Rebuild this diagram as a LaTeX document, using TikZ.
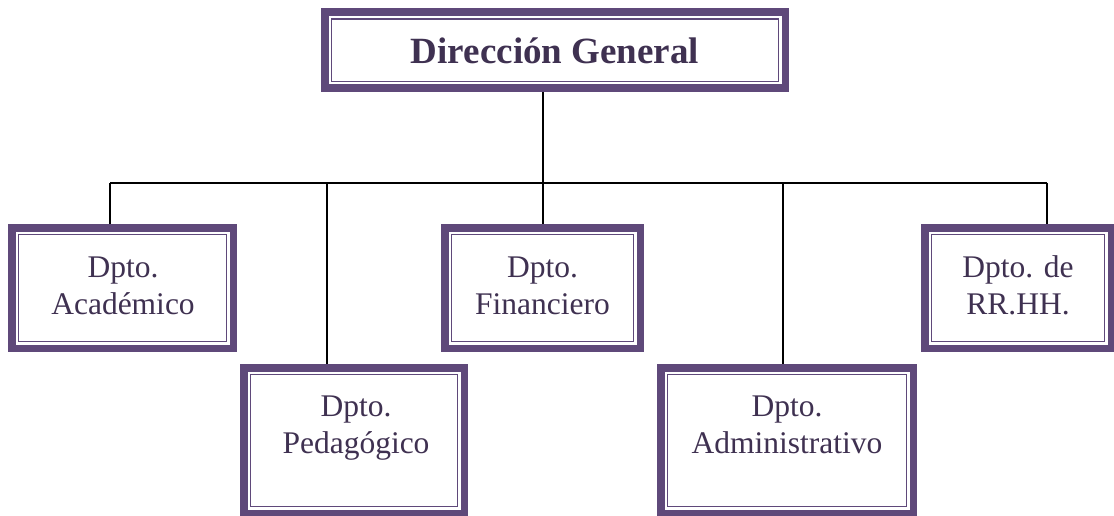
\documentclass[tikz,border=0pt]{standalone}
\usepackage{fontspec}
\setmainfont{Liberation Serif}
\definecolor{boxpurple}{HTML}{5F497A}
\definecolor{txtpurple}{HTML}{3F3151}
\tikzset{
  orgbox/.style={draw=boxpurple, line width=7.5pt, fill=white, inner sep=0pt, outer sep=3.75pt,
    path picture={\draw[boxpurple, line width=1.5pt]
      ([xshift=6.75pt,yshift=-6.75pt]path picture bounding box.north west) rectangle
      ([xshift=-6.75pt,yshift=6.75pt]path picture bounding box.south east);}},
  orgtxt/.style={text=txtpurple, align=center, inner sep=0pt, anchor=base,
    font=\fontsize{31.5}{37}\selectfont},
  orgtitle/.style={text=txtpurple, inner sep=0pt, anchor=base,
    font=\fontsize{37}{42}\selectfont\bfseries},
  conn/.style={black, line width=2pt}
}
\begin{document}
\begin{tikzpicture}[x=1pt,y=-1pt]
\useasboundingbox (0,0) rectangle (1114,516);
\clip (0,0) rectangle (1114,516);
% boxes
\node[orgbox, minimum width=460.5pt, minimum height=76pt] (dg) at (555,50.25) {};
\node[orgbox, minimum width=221.5pt, minimum height=120.5pt] (aca) at (122.5,288) {};
\node[orgbox, minimum width=220.5pt, minimum height=145.5pt] (ped) at (354,440.5) {};
\node[orgbox, minimum width=195.5pt, minimum height=120.5pt] (fin) at (542.5,288) {};
\node[orgbox, minimum width=252.5pt, minimum height=145.5pt] (adm) at (787,440.5) {};
\node[orgbox, minimum width=186.5pt, minimum height=120.5pt] (rrhh) at (1018,288) {};
% texts
\node[orgtitle] (dgt) at (555,64) {Dirección General};
\node[orgtxt] (acat) at (123,314) {Dpto.\\Académico};
\node[orgtxt] (pedt) at (356,453) {Dpto.\\Pedagógico};
\node[orgtxt] (fint) at (542.5,314) {Dpto.\\Financiero};
\node[orgtxt] (admt) at (787,453) {Dpto.\\Administrativo};
\node[orgtxt] (rrhht) at (1018,314) {Dpto. de\\RR.HH.};
% connectors
\coordinate (b1) at (110,182.5);
\coordinate (b2) at (327,182.5);
\coordinate (b3) at (542.5,182.5);
\coordinate (b4) at (783,182.5);
\coordinate (b5) at (1046.5,182.5);
\draw[conn] (b3 |- dg.south) -- (b3);
\draw[conn] (b1) -- (b5);
\draw[conn] (b1) -- (b1 |- aca.north);
\draw[conn] (b2) -- (b2 |- ped.north);
\draw[conn] (b3) -- (b3 |- fin.north);
\draw[conn] (b4) -- (b4 |- adm.north);
\draw[conn] (b5) -- (b5 |- rrhh.north);
\end{tikzpicture}
\end{document}
